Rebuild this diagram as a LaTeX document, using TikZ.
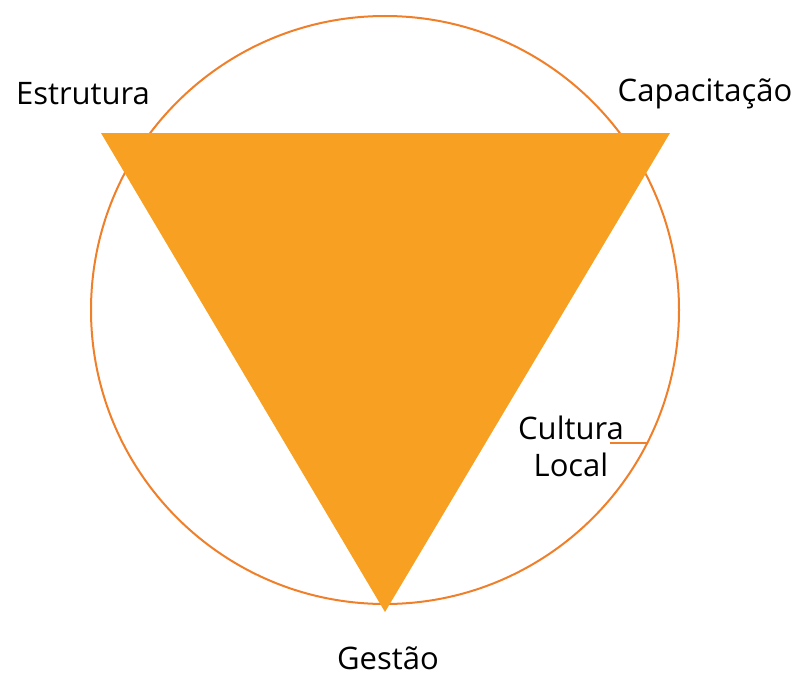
\documentclass[tikz,border=0pt]{standalone}
\usepackage{fontspec}
\setmainfont{Open Sans}
\definecolor{ringc}{HTML}{F07F2A}
\definecolor{trifill}{HTML}{F7A021}
\begin{document}
\begin{tikzpicture}[x=1pt,y=-1pt,
  lbl/.style={font=\fontsize{31}{37}\selectfont, text=black, inner sep=0pt, align=center},
  ring/.style={draw=ringc, line width=2pt}]
\useasboundingbox (0,0) rectangle (801,677);
\node[ring, circle, minimum size=588pt, inner sep=0pt] (c) at (385,310) {};
\coordinate (tl) at (101,133);
\coordinate (tr) at (670,133);
\coordinate (bt) at (385,612);
\fill[trifill] (tl) -- (tr) -- (bt) -- cycle;
\node[lbl] (e) at (83,94) {Estrutura};
\node[lbl] (k) at (705,94) {Capacitação};
\node[lbl] (g) at (388,658) {Gestão};
\node[lbl] (cl) at (571,446) {Cultura\\Local};
\coordinate (le) at (610,443);
\coordinate (re) at (647,443);
\draw[ringc, line width=2pt] (le) -- (re);
\end{tikzpicture}
\end{document}
